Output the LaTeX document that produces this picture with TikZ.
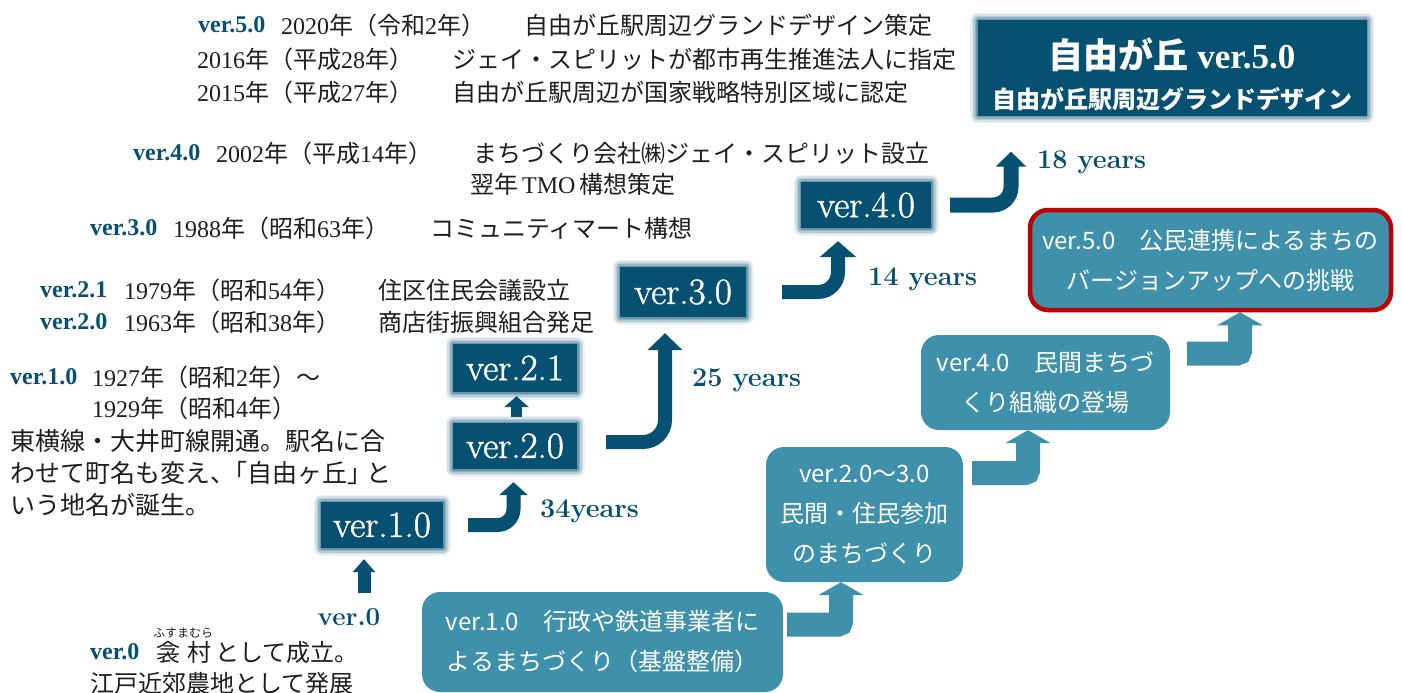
\documentclass[tikz,border=0pt]{standalone}
\usepackage{fontspec}
\newfontfamily\jp{Noto Sans CJK JP}
\newfontfamily\libs{Liberation Serif}
\newfontfamily\boxfont{Latin Modern Roman}[FakeBold=1.3]
\usetikzlibrary{arrows.meta}
\definecolor{dk}{RGB}{6,80,114}
\definecolor{lt}{RGB}{63,144,170}
\definecolor{rd}{RGB}{192,0,0}
\definecolor{ink}{RGB}{30,30,30}
% automatic switch to the CJK font for CJK characters
\XeTeXinterchartokenstate=1
\newXeTeXintercharclass\cjkcls
\newcount\cjkc
\cjkc="3000
\loop\XeTeXcharclass\cjkc=\cjkcls\relax\ifnum\cjkc<"9FFF\relax\advance\cjkc by 1\relax\repeat
\cjkc="FF00
\loop\XeTeXcharclass\cjkc=\cjkcls\relax\ifnum\cjkc<"FFEF\relax\advance\cjkc by 1\relax\repeat
\def\latfont{\libs}
\XeTeXinterchartoks 0 \cjkcls = {\jp}
\XeTeXinterchartoks 4095 \cjkcls = {\jp}
\XeTeXinterchartoks \cjkcls 0 = {\latfont}
\XeTeXinterchartoks \cjkcls 4095 = {\latfont}
\begin{document}
\begin{tikzpicture}[x=1pt,y=-1pt,
  txt/.style={anchor=west, inner sep=0pt, text=ink, font=\libs\fontsize{24}{28}\selectfont},
  para/.style={anchor=west, inner sep=0pt, text=ink, font=\libs\fontsize{25}{28}\selectfont},
  lab/.style={anchor=west, inner sep=0pt, text=dk, font=\libs\bfseries\fontsize{24}{28}\selectfont},
  yrs/.style={anchor=west, inner sep=0pt, text=dk, font=\rmfamily\bfseries\fontsize{27}{30}\selectfont},
  darkbox/.style={fill=dk, text=white, inner sep=0pt, align=center,
     preaction={draw=dk, draw opacity=0.07, line width=15pt, line join=round},
     preaction={draw=dk, draw opacity=0.10, line width=12pt, line join=round},
     preaction={draw=dk, draw opacity=0.14, line width=9pt, line join=round},
     preaction={draw=dk, draw opacity=0.20, line width=6pt, line join=round},
     preaction={draw=dk, draw opacity=0.30, line width=3pt, line join=round}},
  verbox/.style={darkbox, minimum width=#1, minimum height=46pt, font=\boxfont\fontsize{37}{40}\selectfont},
  ltbox/.style={fill=lt, rounded corners=18pt, text=white, align=center, inner sep=0pt,
     font={\def\latfont{\jp}\jp\fontsize{24}{40}\selectfont}},
  dkarrow/.style n args={3}{draw=dk, line width=#1, -{Triangle[width=#2,length=#3]}},
  ltarrow/.style={draw=lt, line width=24pt, rounded corners=3pt, -{Triangle[width=45pt,length=13pt]}}
]
\fill[white] (0,0) rectangle (1403,693);
\useasboundingbox (0,0) rectangle (1403,693);

% ---- timeline texts ----
\node[lab] (l50) at (198,25) {ver.5.0};
\node[txt] (d50) at (281,25) {2020年（令和2年）};
\node[txt] (t50) at (524,25) {自由が丘駅周辺グランドデザイン策定};
\node[txt] (d16) at (197,59) {2016年（平成28年）};
\node[txt] (t16) at (452,59) {ジェイ・スピリットが都市再生推進法人に指定};
\node[txt] (d15) at (197,92) {2015年（平成27年）};
\node[txt] (t15) at (452,92) {自由が丘駅周辺が国家戦略特別区域に認定};

\node[lab] (l40) at (133,153) {ver.4.0};
\node[txt] (d40) at (216,153) {2002年（平成14年）};
\node[txt] (t40) at (473,153) {まちづくり会社㈱ジェイ・スピリット設立};
\node[txt] (t40b) at (470,184) {翌年\,TMO\,構想策定};

\node[lab] (l30) at (90,228) {ver.3.0};
\node[txt] (d30) at (173,228) {1988年（昭和63年）};
\node[txt] (t30) at (430,228) {コミュニティマート構想};

\node[lab] (l21) at (40,290) {ver.2.1};
\node[txt] (d21) at (124,290) {1979年（昭和54年）};
\node[txt] (t21) at (378,290) {住区住民会議設立};
\node[lab] (l20) at (40,322) {ver.2.0};
\node[txt] (d20) at (124,322) {1963年（昭和38年）};
\node[txt] (t20) at (378,322) {商店街振興組合発足};

\node[lab] (l10) at (10,377) {ver.1.0};
\node[txt] (d10) at (92,377) {1927年（昭和2年）～};
\node[txt] (d10b) at (92,408) {1929年（昭和4年）};
\node[para] (p1) at (10,441) {東横線・大井町線開通。駅名に合};
\node[para] (p2) at (10,473) {わせて町名も変え、\kern-12.5pt「自由ヶ丘」\kern-6pt と};
\node[para] (p3) at (10,505) {いう地名が誕生。};

\node[anchor=center, inner sep=0pt, text=dk, font=\rmfamily\bfseries\fontsize{26}{28}\selectfont] (v0) at (349,617) {ver.0};
\node[anchor=center, inner sep=0pt, text=ink, font=\fontsize{12}{14}\selectfont] (ruby) at (183,633) {ふすまむら};
\node[lab] (l0) at (90,652) {ver.0};
\node[txt] (t0) at (156,652) {衾\hspace{7pt}村\hspace{4pt}として成立。};
\node[txt] (t0b) at (90,683) {江戸近郊農地として発展};

% ---- dark version boxes ----
\node[verbox=122pt] (v1) at (382,525) {ver.1.0};
\node[verbox=124pt] (v2) at (515,446) {ver.2.0};
\node[verbox=124pt, minimum height=48pt] (v21) at (515,368) {ver.2.1};
\node[verbox=126pt, minimum height=50pt] (v3) at (683,292) {ver.3.0};
\node[verbox=130pt] (v4) at (866,205) {ver.4.0};
\node[darkbox, minimum width=389pt, minimum height=95pt] (v5) at (1172,68) {};
\node[align=center, inner sep=0pt, text=white, font=\bfseries\fontsize{24}{40}\selectfont] (v5t) at (1172,74)
  {{\fontsize{35}{40}\selectfont 自由が丘 ver.5.0}\\自由が丘駅周辺グランドデザイン};

% ---- years labels ----
\node[yrs] (y34) at (540,511) {34years};
\node[yrs] (y25) at (692,380) {25 years};
\node[yrs] (y14) at (868,279) {14 years};
\node[yrs] (y18) at (1037,162) {18 years};

% ---- dark arrows ----
\coordinate (a0) at (364,593);
\draw[dkarrow={13pt}{22pt}{13pt}] (a0) -- ([xshift=-18pt,yshift=-11pt]v1.south);
\draw[dkarrow={11pt}{24pt}{11pt}] ([xshift=1.5pt,yshift=6pt]v2.north) -- ([xshift=1.5pt,yshift=-4pt]v21.south);
\draw[dkarrow={14pt}{28pt}{13pt}, rounded corners=16pt] ([xshift=25pt]v1.east) -| ([xshift=-1.5pt,yshift=-13pt]v2.south);
\draw[dkarrow={14pt}{34pt}{17pt}, rounded corners=22pt] ([xshift=29pt,yshift=4pt]v2.east) -| ([xshift=-18pt,yshift=-16pt]v3.south);
\draw[dkarrow={14pt}{36pt}{16pt}, rounded corners=20pt] ([xshift=36pt]v3.east) -| ([xshift=-28pt,yshift=-13pt]v4.south);
\draw[dkarrow={15pt}{30pt}{15pt}, rounded corners=18pt] ([xshift=19pt]v4.east) -| ([xshift=-161pt,yshift=-36pt]v5.south);

% ---- light boxes ----
\node[ltbox, minimum width=361pt, minimum height=100pt] (A) at (602.5,642)
  {ver.1.0　行政や鉄道事業者に\\よるまちづくり（基盤整備）};
\node[ltbox, minimum width=197pt, minimum height=135pt] (B) at (864.5,514.5)
  {ver.2.0～3.0\\民間・住民参加\\のまちづくり};
\node[ltbox, minimum width=249pt, minimum height=95pt] (C) at (1045.5,382.5)
  {ver.4.0　民間まちづ\\くり組織の登場};
\node[ltbox, draw=rd, line width=4.5pt, minimum width=361pt, minimum height=100pt] (D) at (1210.5,260)
  {ver.5.0　公民連携によるまちの\\バージョンアップへの挑戦};

% ---- light arrows ----
\draw[ltarrow] ([xshift=4pt,yshift=17.5pt]A.east) -| ([xshift=-23.5pt]B.south);
\draw[ltarrow] ([xshift=9pt,yshift=41.5pt]B.east) -| ([xshift=-17.5pt]C.south);
\draw[ltarrow] ([xshift=17pt,yshift=29pt]C.east) -| ([xshift=29.5pt]D.south);
\end{tikzpicture}
\end{document}
